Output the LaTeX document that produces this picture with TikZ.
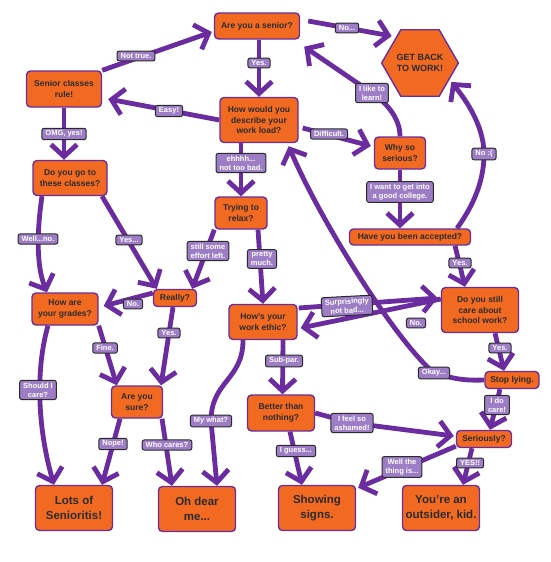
\documentclass[tikz,border=0pt]{standalone}
\usepackage{fontspec}
\setmainfont{Liberation Sans}
\usetikzlibrary{arrows.meta,shapes.geometric}
\definecolor{orng}{HTML}{F26A22}
\definecolor{purp}{HTML}{6A2C9E}
\definecolor{lav}{HTML}{9D7EC6}
\definecolor{dk}{HTML}{2B2B2B}
\pgfdeclarelayer{back}
\pgfdeclarelayer{bg}
\pgfsetlayers{back,bg,main}
\tikzset{
 box/.style={draw=purp, line width=1.4pt, fill=orng, rounded corners=4pt, align=center, inner sep=1pt, text=dk, font=\bfseries\fontsize{8.5}{10.5}\selectfont},
 bigbox/.style={box, font=\bfseries\fontsize{11.5}{14.5}\selectfont, minimum width=77pt, minimum height=45pt},
 lbl/.style={draw=dk, line width=1pt, fill=lav, rounded corners=2pt, align=center, text=white, inner xsep=3.5pt, inner ysep=2.3pt, font=\bfseries\fontsize{7.5}{9}\selectfont},
 arr/.style={draw=purp, line width=4.8pt, -{Straight Barb[length=12pt,width=26pt]}},
}
\begin{document}
\begin{tikzpicture}[x=1pt,y=-1pt]
\begin{pgfonlayer}{back}
\fill[white] (0,0) rectangle (550,562);
\end{pgfonlayer}
\useasboundingbox (0,0) rectangle (550,562);
% main boxes
\node[box, minimum width=85pt, minimum height=26pt] (senior) at (257,26) {Are you a senior?};
\node[draw=purp, line width=1.4pt, fill=orng, regular polygon, regular polygon sides=6, minimum size=71pt, inner sep=0pt, align=center, text=dk, font=\bfseries\fontsize{9}{11}\selectfont] (hex) at (420,63) {GET BACK\\TO WORK!};
\node[box, minimum width=75pt, minimum height=36pt] (rule) at (64,89) {Senior classes\\rule!};
\node[box, minimum width=78pt, minimum height=45pt] (describe) at (259,120) {How would you\\describe your\\work load?};
\node[box, minimum width=51pt, minimum height=32pt] (why) at (400,153) {Why so\\serious?};
\node[box, minimum width=74pt, minimum height=35pt] (go) at (70,178) {Do you go to\\these classes?};
\node[box, minimum width=52pt, minimum height=32pt] (relax) at (241,213) {Trying to\\relax?};
\node[box, minimum width=121pt, minimum height=16pt] (accepted) at (410,237) {Have you been accepted?};
\node[box, minimum width=77pt, minimum height=45pt] (still) at (480,310) {Do you still\\care about\\school work?};
\node[box, minimum width=43pt, minimum height=17pt] (really) at (175,298) {Really?};
\node[box, minimum width=66pt, minimum height=32pt] (grades) at (65,309) {How are\\your grades?};
\node[box, minimum width=68pt, minimum height=35pt] (ethic) at (263,322) {How's your\\work ethic?};
\node[box, minimum width=54pt, minimum height=17pt] (stop) at (512,380) {Stop lying.};
\node[box, minimum width=51pt, minimum height=32pt] (sure) at (137,402) {Are you\\sure?};
\node[box, minimum width=67pt, minimum height=36pt] (better) at (281,413) {Better than\\nothing?};
\node[box, minimum width=55pt, minimum height=17pt] (seriously) at (484,439) {Seriously?};
\node[bigbox] (lots) at (74,508) {Lots of\\Senioritis!};
\node[bigbox] (ohdear) at (197,509) {Oh dear\\me...};
\node[bigbox] (showing) at (317,508) {Showing\\signs.};
\node[bigbox] (outsider) at (441,508) {You're an\\outsider, kid.};
% labels
\node[lbl] (lno) at (347,28) {No...};
\node[lbl] (lnottrue) at (136,56) {Not true.};
\node[lbl] (lyesa) at (259,63) {Yes.};
\node[lbl] (leasy) at (169,111) {Easy!};
\node[lbl] (llike) at (372,93) {I like to\\learn!};
\node[lbl] (lomg) at (64,134) {OMG, yes!};
\node[lbl] (ldiff) at (329,134) {Difficult.};
\node[lbl] (lehh) at (241,163) {ehhhh...\\not too bad.};
\node[lbl] (lnosad) at (484,154) {No :(};
\node[lbl] (lwant) at (400,192) {I want to get into\\a good college.};
\node[lbl] (lwell) at (38,239) {Well...no.};
\node[lbl] (lyesb) at (129,240) {Yes...};
\node[lbl] (lstill) at (208,251) {still some\\effort left.};
\node[lbl] (lpretty) at (262,259) {pretty\\much.};
\node[lbl] (lyesc) at (460,263) {Yes.};
\node[lbl] (lnob) at (133,304) {No.};
\node[lbl, rotate=3] (lsurp) at (347,306) {Surprisingly\\not bad...};
\node[lbl] (lnoc) at (416,323) {No.};
\node[lbl] (lyesd) at (169,333) {Yes.};
\node[lbl] (lfine) at (105,348) {Fine.};
\node[lbl] (lsub) at (284,361) {Sub-par.};
\node[lbl] (lyese) at (500,348) {Yes.};
\node[lbl] (lokay) at (434,373) {Okay...};
\node[lbl] (lshould) at (38,390) {Should I\\care?};
\node[lbl] (ldocare) at (497,405) {I do\\care!};
\node[lbl] (lmywhat) at (211,421) {My what?};
\node[lbl] (lashamed) at (352,423) {I feel so\\ashamed!};
\node[lbl] (lguess) at (296,451) {I guess...};
\node[lbl] (lnope) at (113,444) {Nope!};
\node[lbl] (lwho) at (167,445) {Who cares?};
\node[lbl] (lwellthing) at (402,467) {Well the\\thing is...};
\node[lbl] (lyesyes) at (470,463) {YES!!};
% arrows
\begin{pgfonlayer}{bg}
\draw[arr] (rule.north east) -- ([shift={(-2,6)}]senior.west);
\draw[arr] ([shift={(8,-5)}]senior.east) -- ([shift={(1,-10)}]hex.150);
\draw[arr] ([xshift=2]senior.south) -- (describe.north);
\draw[arr] (describe.west) -- ([shift={(6,10)}]rule.east);
\draw[arr] ([shift={(4,8)}]describe.east) -- ([shift={(-3,-7)}]why.west);
\draw[arr] ([xshift=-18]describe.south) -- (relax.north);
\draw[arr] (why.north) .. controls +(0,-20) and +(12,8) .. (llike.center) -- ([shift={(4,7)}]senior.south east);
\draw[arr] (why.south) -- ([xshift=-10]accepted.north);
\draw[arr] ([xshift=47]accepted.north) .. controls +(18,-25) and +(0,25) .. (lnosad.center) .. controls +(0,-30) and +(12,15) .. ([shift={(2,2)}]hex.-30);
\draw[arr] ([xshift=45]accepted.south) -- ([xshift=-15]still.north);
\draw[arr] ([yshift=11]still.west) -- ([shift={(3,6)}]ethic.east);
\draw[arr] ([shift={(1,-14)}]ethic.east) -- ([shift={(-3,-12)}]still.west);
\draw[arr] ([xshift=15]still.south) -- ([xshift=-8]stop.north);
\draw[arr] (stop.west) .. controls +(-25,1) and +(15,4) .. (lokay.center) .. controls (395,340) and (320,220) .. ([shift={(-10,3)}]describe.south east);
\draw[arr] (relax.south west) -- ([xshift=-5]really.north east);
\draw[arr] ([xshift=17]relax.south) -- (ethic.north);
\draw[arr] ([xshift=-28]go.south) .. controls +(-5,34) and +(-11,-27) .. ([xshift=-18]grades.north);
\draw[arr] ([xshift=32]go.south) -- ([xshift=4]really.north west);
\draw[arr] ([yshift=5]really.west) -- ([shift={(5,-3)}]grades.east);
\draw[arr] ([xshift=-2]really.south) -- ([xshift=24]sure.north);
\draw[arr] (grades.south east) -- ([xshift=6]sure.north west);
\draw[arr] ([xshift=-17]grades.south) .. controls +(-13,45) and +(-16,-55) .. ([xshift=-20]lots.north);
\draw[arr] ([xshift=-17]sure.south) -- ([xshift=28]lots.north);
\draw[arr] ([xshift=25]sure.south) -- ([xshift=-25]ohdear.north);
\draw[arr] ([xshift=-20]ethic.south) .. controls +(0,40) and +(0,-40) .. (lmywhat.center) -- ([xshift=20]ohdear.north);
\draw[arr] ([xshift=20]ethic.south) -- ([xshift=1.5]better.north);
\draw[arr] ([xshift=9]better.south) -- ([xshift=-15]showing.north);
\draw[arr] (better.east) -- (lashamed.center) -- ([shift={(-2,-3)}]seriously.west);
\draw[arr] ([xshift=-12]stop.south) -- ([xshift=6]seriously.north);
\draw[arr] ([shift={(0,-2)}]seriously.south west) -- ([shift={(2,3)}]showing.north east);
\draw[arr] ([xshift=-12]seriously.south) -- ([xshift=22]outsider.north);
\draw[arr] (rule.south) -- ([xshift=-6]go.north);
\end{pgfonlayer}
\end{tikzpicture}
\end{document}
